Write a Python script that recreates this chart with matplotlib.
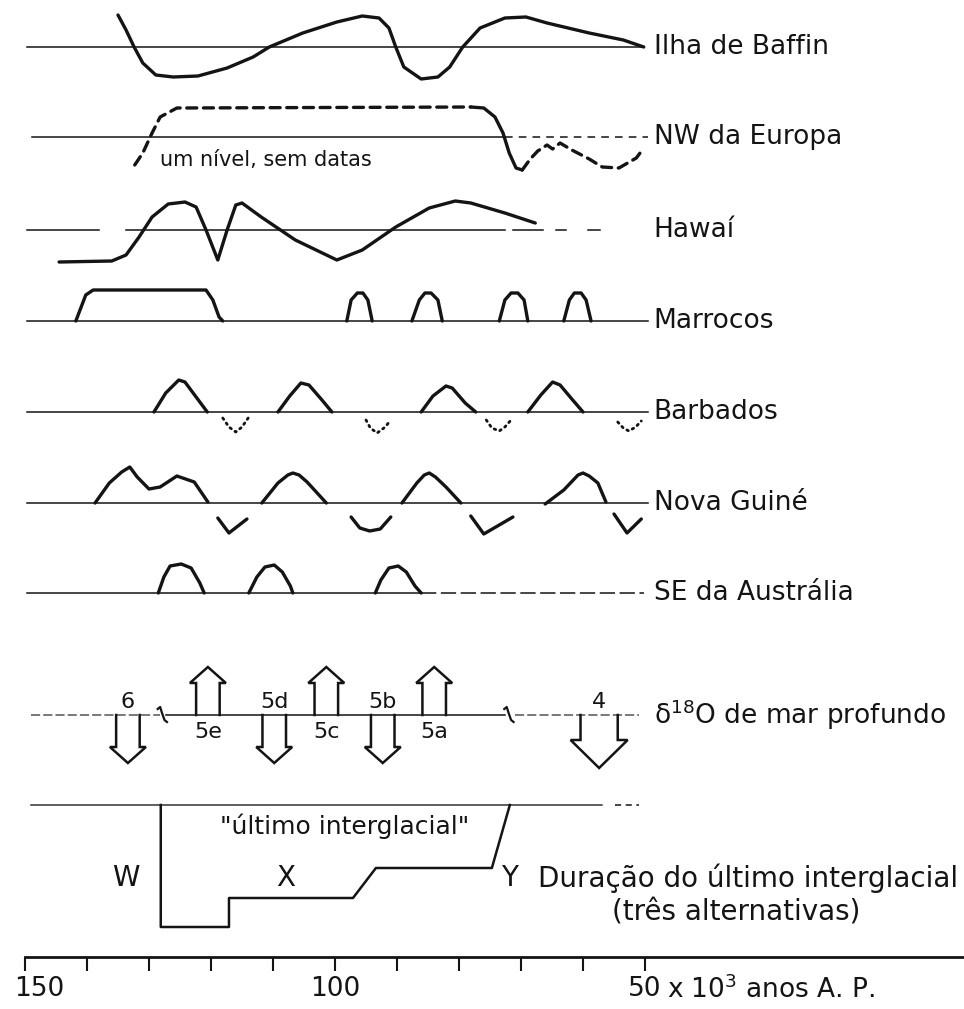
import numpy as np
import matplotlib.pyplot as plt
from matplotlib.transforms import ScaledTranslation

plt.rcParams['font.family'] = ['DejaVu Sans']
plt.rcParams['mathtext.default'] = 'regular'

# Idades em milhares de anos A.P.; níveis relativos a cada linha de base
baffin_idade = [135.0, 133.7, 132.4, 131.0, 128.9, 126.1, 122.1, 117.4, 113.2, 110.6,
                105.2, 99.7, 95.6, 92.9, 91.3, 90.2, 88.9, 86.1, 83.4, 81.5,
                79.4, 76.6, 72.6, 69.2, 65.8, 59.0, 53.5, 50.2]
baffin_nivel = [32, 17, 0, -16, -28, -30, -29, -21, -10, 0,
                14, 25, 31, 29, 19, 0, -20, -32, -30, -20,
                0, 19, 29, 30, 24, 14, 7, 0]

# NW da Europa: tracejado (sem datas), troço datado, tracejado final
europa_idade_a = [132.3, 131.0, 129.5, 128.2, 125.5, 78.1]
europa_nivel_a = [-28, -16, 4, 20, 29, 30]
europa_idade_b = [78.1, 76.0, 74.2, 72.9, 71.9, 70.8, 69.8]
europa_nivel_b = [30, 29, 20, 4, -16, -31, -33]
europa_idade_c = [69.8, 68.5, 67.3, 65.8, 64.9, 63.7, 61.8, 59.0, 56.9, 54.2, 51.4, 50.8]
europa_nivel_c = [-33, -22, -14, -8, -12, -6, -13, -22, -30, -31, -21, -16]

hawai_idade = [144.5, 136.0, 133.7, 131.6, 129.5, 126.9, 124.2, 122.4, 120.8, 118.9,
               117.4, 116.0, 115.0, 111.9, 106.4, 99.7, 95.6, 90.2, 84.8, 80.6,
               78.1, 72.6, 67.7]
hawai_nivel = [-32, -31, -25, -7, 13, 26, 28, 23, 0, -30,
               0, 25, 27, 13, -10, -30, -20, 3, 22, 29,
               27, 17, 7]

marrocos_idade = [
    [141.8, 140.2, 139.0, 120.8, 119.7, 118.7, 118.1],
    [98.1, 97.4, 96.4, 95.5, 94.7, 94.0],
    [87.6, 86.4, 85.5, 84.5, 83.4, 82.7],
    [73.5, 72.6, 71.6, 70.5, 69.5, 68.9],
    [63.1, 62.2, 61.4, 60.3, 59.5, 58.7],
]
marrocos_nivel = [
    [0, 26, 31, 31, 21, 4, 0],
    [0, 21, 28, 28, 21, 0],
    [0, 21, 28, 28, 21, 0],
    [0, 21, 28, 28, 21, 0],
    [0, 21, 28, 28, 21, 0],
]

barbados_idade = [
    [129.2, 127.3, 125.2, 124.2, 122.4, 120.6],
    [109.2, 107.3, 105.5, 104.2, 102.1, 100.5],
    [86.1, 84.2, 82.1, 81.1, 79.0, 77.3],
    [68.9, 66.8, 64.9, 63.7, 61.8, 60.0],
]
barbados_nivel = [
    [0, 19, 32, 30, 15, 0],
    [0, 16, 29, 27, 12, 0],
    [0, 16, 26, 24, 9, 0],
    [0, 17, 30, 27, 13, 0],
]
barbados_vale_idade = [
    [118.1, 117.1, 116.0, 115.0, 114.0],
    [95.0, 94.3, 93.2, 91.9, 91.0],
    [75.6, 74.7, 73.5, 72.6, 71.6],
    [54.4, 53.5, 52.6, 51.5, 50.6],
]
barbados_vale_nivel = [
    [-6, -15, -20, -15, -6],
    [-8, -16, -21, -15, -8],
    [-8, -16, -19, -15, -8],
    [-10, -16, -19, -15, -9],
]

guine_idade = [
    [138.7, 136.4, 134.4, 133.1, 131.9, 130.0, 128.2, 125.5, 122.7, 120.5],
    [111.8, 109.2, 107.6, 106.8, 105.8, 104.5, 101.4],
    [89.2, 86.8, 85.6, 84.8, 83.8, 82.1, 79.7],
    [66.1, 63.1, 60.8, 60.0, 59.0, 57.6, 56.3],
    [118.9, 117.1, 114.2],
    [97.4, 96.0, 94.4, 92.7, 91.0],
    [78.1, 76.0, 71.3],
    [55.0, 52.9, 50.6],
]
guine_nivel = [
    [0, 20, 31, 36, 26, 14, 16, 27, 21, 1],
    [0, 20, 28, 30, 28, 21, 0],
    [0, 20, 28, 30, 26, 16, 0],
    [-1, 13, 28, 30, 27, 20, 1],
    [-15, -30, -16],
    [-14, -25, -28, -26, -14],
    [-13, -31, -14],
    [-11, -30, -16],
]

australia_idade = [
    [128.5, 127.6, 126.6, 124.8, 123.2, 121.8, 121.1],
    [113.9, 112.6, 111.3, 109.8, 108.5, 107.2, 106.8],
    [93.5, 92.6, 91.3, 89.8, 88.5, 87.1, 86.1],
]
australia_nivel = [
    [0, 16, 27, 29, 25, 10, 0],
    [0, 16, 26, 28, 21, 7, 0],
    [0, 13, 25, 27, 21, 7, 0],
]

# estágios isotópicos do mar profundo (+1 = seta para cima)
estagios = ['6', '5e', '5d', '5c', '5b', '5a', '4']
estagio_idade = [133.4, 120.5, 109.8, 101.4, 92.3, 84.0, 57.4]
estagio_sentido = [-1, 1, -1, 1, -1, 1, -1]
quebras_idade = [127.7, 71.8]

# duração do último interglacial: alternativas W, X e Y
duracao_idade = [128.1, 128.1, 117.1, 117.1, 97.1, 93.4, 74.7, 71.8]
duracao_nivel = [0, -122, -122, -93, -93, -63, -63, 0]
alternativas = ['W', 'X', 'Y']
alternativa_idade = [133.7, 107.9, 71.8]

registos = ['Ilha de Baffin', 'NW da Europa', 'Hawaí', 'Marrocos', 'Barbados',
            'Nova Guiné', 'SE da Austrália']

ticks_idade = np.arange(50, 151, 10)

# ---- desenho ----
tinta = '#141414'
base_y = [-47, -137, -230, -321, -412, -503, -593]
o18_y = -715
dur_y = -805
eixo_y = -957
lw_curva = 2.4
lw_base = 1.1

fig = plt.figure(figsize=(9.64, 10.09), dpi=100)
ax = fig.add_axes([0, 0, 1, 1])
ax.set_xlim(154.03, -1.45)
ax.set_ylim(-1009, 0)


def curva(idades, niveis, y0, ls='-', lw=lw_curva):
    ax.plot(idades, np.array(niveis) + y0, color=tinta, lw=lw, ls=ls,
            solid_capstyle='round', solid_joinstyle='round',
            dash_capstyle='round')


def base(x0, x1, y0, ls='-', cor=tinta):
    ax.plot([x0, x1], [y0, y0], color=cor, lw=lw_base, ls=ls)


# linhas de base
base(149.7, 50.2, base_y[0])
base(148.9, 72.6, base_y[1])
base(72.6, 49.5, base_y[1], ls=(0, (5, 4)))
base(149.7, 138.1, base_y[2])
base(133.7, 72.6, base_y[2])
base(71.3, 66.5, base_y[2])
base(64.3, 62.7, base_y[2])
base(59.2, 57.2, base_y[2])
for y in base_y[3:6]:
    base(149.7, 49.5, y)
base(149.7, 86.1, base_y[6])
base(86.1, 50.2, base_y[6], ls=(0, (10, 3)))

# Ilha de Baffin
curva(baffin_idade, baffin_nivel, base_y[0])
# NW da Europa
curva(europa_idade_a, europa_nivel_a, base_y[1], ls=(0, (3, 2)))
curva(europa_idade_b, europa_nivel_b, base_y[1])
curva(europa_idade_c, europa_nivel_c, base_y[1], ls=(0, (3, 2)))
ax.text(128.2, base_y[1] - 23, 'um nível, sem datas', fontsize=15,
        va='center', ha='left', color=tinta)
# Hawaí
curva(hawai_idade, hawai_nivel, base_y[2])
# Marrocos
for xs, ys in zip(marrocos_idade, marrocos_nivel):
    curva(xs, ys, base_y[3])
# Barbados
for xs, ys in zip(barbados_idade, barbados_nivel):
    curva(xs, ys, base_y[4])
for xs, ys in zip(barbados_vale_idade, barbados_vale_nivel):
    curva(xs, ys, base_y[4], ls=(0, (0.6, 1.6)), lw=2.0)
# Nova Guiné
for xs, ys in zip(guine_idade, guine_nivel):
    curva(xs, ys, base_y[5])
# SE da Austrália
for xs, ys in zip(australia_idade, australia_nivel):
    curva(xs, ys, base_y[6])

for nome, y in zip(registos, base_y):
    ax.text(48.6, y, nome, fontsize=19, va='center', ha='left', color=tinta)

# delta 18O do mar profundo
base(149.0, 128.2, o18_y, ls=(0, (6, 2)), cor='#555555')
base(127.2, 72.6, o18_y)
base(71.0, 50.9, o18_y, ls=(0, (6, 2)), cor='#555555')
for q in quebras_idade:
    ax.plot([q + 0.9, q + 0.5, q + 0.2, q - 0.2, q - 0.6],
            [o18_y + 6, o18_y + 8, o18_y + 2, o18_y - 5, o18_y - 7],
            color=tinta, lw=1.6, solid_joinstyle='round')

for nome, x, s in zip(estagios, estagio_idade, estagio_sentido):
    grande = (nome == '4')
    w = 3.0 if grande else 1.9
    W = 4.6 if grande else 2.9
    L = 25 if grande else 32
    H = 28 if grande else 16
    px = [x - w, x - w, x - W, x, x + W, x + w, x + w]
    py = [0, L, L, L + H, L, L, 0]
    ax.plot(px, o18_y + s * np.array(py), color=tinta, lw=1.8,
            solid_joinstyle='miter')
    ly = o18_y - 17 if s > 0 else o18_y + 13
    ax.text(x, ly, nome, fontsize=16, ha='center', va='center', color=tinta)

ax.text(48.6, o18_y, 'δ$^{18}$O de mar profundo', fontsize=19,
        va='center', ha='left', color=tinta)

# duração do último interglacial
base(149.0, 56.9, dur_y, cor='#333333')
base(54.8, 51.0, dur_y, ls=(0, (4, 3)))
ax.plot(duracao_idade, np.array(duracao_nivel) + dur_y, color=tinta, lw=1.8)
for letra, x in zip(alternativas, alternativa_idade):
    ax.text(x, dur_y - 73, letra, fontsize=20, ha='center', va='center', color=tinta)
ax.text(98.5, dur_y - 21, '"último interglacial"', fontsize=18,
        ha='center', va='center', color=tinta)
ax.text(67.3, dur_y - 73, 'Duração do último interglacial', fontsize=20,
        ha='left', va='center', color=tinta)
ax.text(35.3, dur_y - 108, '(três alternativas)', fontsize=20,
        ha='center', va='center', color=tinta)

# eixo do tempo
for lado in ['left', 'right', 'top']:
    ax.spines[lado].set_visible(False)
ax.spines['bottom'].set_position(('data', eixo_y))
ax.spines['bottom'].set_bounds(150, -1.45)
ax.spines['bottom'].set_linewidth(2.0)
ax.spines['bottom'].set_color(tinta)
ax.set_yticks([])
ax.set_xticks(ticks_idade)
ax.set_xticklabels([str(t) if t % 50 == 0 else '' for t in ticks_idade])
ax.tick_params(axis='x', direction='out', length=10, width=1.5, pad=4,
               labelsize=19, colors=tinta)
# o rótulo 150 fica um pouco para dentro da margem
rot_150 = ax.get_xticklabels()[-1]
rot_150.set_transform(rot_150.get_transform() +
                      ScaledTranslation(10 / 72, 0, fig.dpi_scale_trans))
ax.text(46.4, eixo_y - 33, 'x 10$^3$ anos A. P.', fontsize=19,
        ha='left', va='center', color=tinta)

fig.savefig('out.png', dpi=100, facecolor='white')
